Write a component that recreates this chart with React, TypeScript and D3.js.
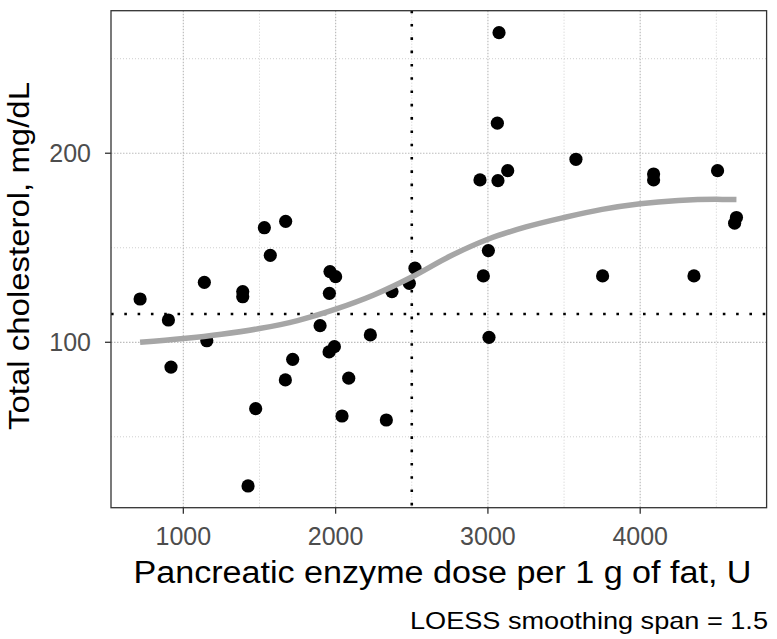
import React from "react";
import * as d3 from "d3";

// Data
const doseU: number[] = [
  716, 902, 919, 1138, 1154, 1390, 1390, 1425, 1475, 1532, 1571, 1672, 1670, 1718,
  1898, 1959, 1963, 2000, 1992, 1957, 2042, 2086, 2228, 2333, 2370, 2484, 2521,
  2948, 2970, 3003, 3007, 3062, 3066, 3073, 3130, 3578, 3753, 4088, 4088, 4353,
  4508, 4620, 4632,
];
const cholesterol: number[] = [
  122.9, 111.8, 86.9, 131.7, 100.8, 126.8, 124.1, 24.0, 64.9, 160.6, 146.0, 164.0, 80.1, 91.0,
  108.8, 125.9, 137.4, 134.7, 97.7, 94.9, 61.0, 81.0, 103.9, 58.9, 126.8, 131.2, 139.2,
  185.9, 135.1, 148.5, 102.6, 215.9, 185.5, 263.8, 190.8, 196.8, 135.1, 189.0, 185.9, 135.1,
  190.8, 163.0, 166.0,
];
// LOESS (span = 1.5) fitted curve
const smoothDose: number[] = [716, 1000, 1250, 1500, 1750, 2000, 2250, 2500, 2750, 3000, 3250, 3500, 3750, 4000, 4250, 4500, 4632];
const smoothChol: number[] = [100.0, 102.0, 104.3, 107.3, 111.5, 117.5, 125.0, 134.5, 145.5, 154.5, 161.0, 166.0, 170.3, 173.3, 175.0, 175.6, 175.5];

const xMajorTicks: number[] = [1000, 2000, 3000, 4000];
const xMinorTicks: number[] = [1500, 2500, 3500, 4500];
const yMajorTicks: number[] = [100, 200];
const yMinorTicks: number[] = [50, 150, 250];
const refDose = 2500;
const refChol = 115;

const xTitle = "Pancreatic enzyme dose per 1 g of fat, U";
const yTitle = "Total cholesterol, mg/dL";
const caption = "LOESS smoothing span = 1.5";

export default function App() {
  const W = 777, H = 639;
  const left = 111, right = 766.6, top = 10.7, bottom = 507.7;
  const x = d3.scaleLinear().domain([525, 4830]).range([left, right]);
  const y = d3.scaleLinear().domain([12.5, 275.4]).range([bottom, top]);

  const fit = smoothDose.map((d, i) => [d, smoothChol[i]] as [number, number]);
  const line = d3.line<[number, number]>().x((d) => x(d[0])).y((d) => y(d[1])).curve(d3.curveMonotoneX);

  const font = "'Liberation Sans', Arial, Helvetica, sans-serif";
  const pts = doseU.map((d, i) => [d, cholesterol[i]]);

  return (
    <svg width={W} height={H} style={{ position: "absolute", left: 0, top: 0, background: "#fff" }} fontFamily={font}>
      <rect x={0} y={0} width={W} height={H} fill="#fff" />
      <clipPath id="panel">
        <rect x={left} y={top} width={right - left} height={bottom - top} />
      </clipPath>
      {/* minor grid */}
      {xMinorTicks.map((t) => (
        <line key={"xm" + t} x1={x(t)} x2={x(t)} y1={top} y2={bottom} stroke="#cfcfcf" strokeWidth={1} strokeDasharray="1 2" />
      ))}
      {yMinorTicks.map((t) => (
        <line key={"ym" + t} x1={left} x2={right} y1={y(t)} y2={y(t)} stroke="#cfcfcf" strokeWidth={1} strokeDasharray="1 2" />
      ))}
      {/* major grid */}
      {xMajorTicks.map((t) => (
        <line key={"xM" + t} x1={x(t)} x2={x(t)} y1={top} y2={bottom} stroke="#bdbdbd" strokeWidth={1.2} strokeDasharray="1.5 1.5" />
      ))}
      {yMajorTicks.map((t) => (
        <line key={"yM" + t} x1={left} x2={right} y1={y(t)} y2={y(t)} stroke="#bdbdbd" strokeWidth={1.2} strokeDasharray="1.5 1.5" />
      ))}
      <g clipPath="url(#panel)">
        {/* reference lines */}
        <line x1={x(refDose)} x2={x(refDose)} y1={top} y2={bottom} stroke="#000" strokeWidth={2.6} strokeDasharray="2.6 10.7" />
        <line x1={left} x2={right} y1={y(refChol)} y2={y(refChol)} stroke="#000" strokeWidth={2.6} strokeDasharray="2.6 10.7" />
        {/* points */}
        {pts.map((p, i) => (
          <circle key={i} cx={x(p[0])} cy={y(p[1])} r={6.6} fill="#000" />
        ))}
        {/* LOESS curve */}
        <path d={line(fit) || ""} fill="none" stroke="#a6a6a6" strokeWidth={5.5} strokeLinecap="butt" />
      </g>
      {/* panel border */}
      <rect x={left} y={top} width={right - left} height={bottom - top} fill="none" stroke="#333" strokeWidth={1.3} />
      {/* x ticks */}
      {xMajorTicks.map((t) => (
        <g key={"xt" + t}>
          <line x1={x(t)} x2={x(t)} y1={bottom} y2={bottom + 6} stroke="#333" strokeWidth={1.3} />
          <text x={x(t)} y={545} textAnchor="middle" fontSize={25} fill="#4d4d4d">{t}</text>
        </g>
      ))}
      {/* y ticks */}
      {yMajorTicks.map((t) => (
        <g key={"yt" + t}>
          <line x1={left - 6} x2={left} y1={y(t)} y2={y(t)} stroke="#333" strokeWidth={1.3} />
          <text x={91} y={y(t) + 9} textAnchor="end" fontSize={25} fill="#4d4d4d">{t}</text>
        </g>
      ))}
      {/* titles */}
      <text x={442.5} y={583} textAnchor="middle" fontSize={31} fill="#000" textLength={618} lengthAdjust="spacingAndGlyphs">{xTitle}</text>
      <text transform={`translate(28.5, 256) rotate(-90)`} textAnchor="middle" fontSize={30} fill="#000" textLength={348} lengthAdjust="spacingAndGlyphs">{yTitle}</text>
      <text x={768} y={629} textAnchor="end" fontSize={24} fill="#000" textLength={358} lengthAdjust="spacingAndGlyphs">{caption}</text>
    </svg>
  );
}
